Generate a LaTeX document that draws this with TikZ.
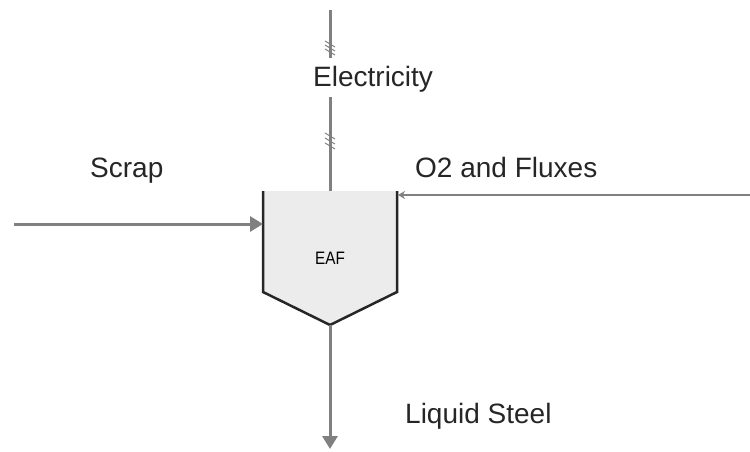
\documentclass[tikz,border=0pt]{standalone}
\usepackage{fontspec}
\setmainfont{Liberation Sans}
\usetikzlibrary{arrows.meta}
\definecolor{linegray}{HTML}{808080}
\definecolor{vesselfill}{HTML}{ECECEC}
\begin{document}
\begin{tikzpicture}[x=1pt,y=-1pt,
  flow/.style={draw=linegray,line width=3pt},
  flowarrow/.style={flow,-{Triangle[length=13pt,width=15pt]}},
  thinarrow/.style={draw=linegray,line width=2pt,-{Stealth[length=7pt,width=8pt]}},
  hatch/.style={draw=linegray,line width=1pt},
  label/.style={font=\fontsize{28}{32}\selectfont,text=black!85,inner sep=0pt},
  vessel/.style={draw=black!85,line width=2.5pt,fill=vesselfill,line join=miter}]
\useasboundingbox (0,0) rectangle (750,452);
% vessel
\coordinate (tl) at (263,191);
\coordinate (tr) at (397,191);
\coordinate (bl) at (263,292);
\coordinate (br) at (397,292);
\coordinate (tip) at (330,325);
\fill[vesselfill] (tl) -- (bl) -- (tip) -- (br) -- (tr) -- cycle;
\draw[vessel,fill=none] (tl) -- (bl) -- (tip) -- (br) -- (tr);
\node[inner sep=0pt,font=\fontsize{18}{20}\selectfont,xscale=0.85] (eaf) at (330,258) {EAF};
% electricity
\coordinate (e1) at (330,10);
\coordinate (e2) at (330,58);
\coordinate (e3) at (330,97);
\coordinate (e4) at (330,191);
\draw[flow] (e1) -- (e2);
\draw[flow] (e3) -- (e4);
\foreach \yy in {44,48,52} \draw[hatch] (325,\yy-3) -- (335,\yy+3);
\foreach \yy in {136,141,146} \draw[hatch] (325,\yy-3) -- (335,\yy+3);
\node[label,anchor=base west] (elec) at (313,86) {Electricity};
% scrap
\coordinate (s0) at (14,224);
\coordinate (s1) at (263,224);
\draw[flowarrow] (s0) -- (s1);
\node[label,anchor=base west] (scrap) at (90,177) {Scrap};
% O2
\coordinate (o0) at (750,195);
\coordinate (o1) at (398,195);
\draw[thinarrow] (o0) -- (o1);
\node[label,anchor=base west] (o2) at (415,177) {O2 and Fluxes};
% liquid steel
\coordinate (l1) at (330,449);
\draw[flowarrow] (tip) -- (l1);
\node[label,anchor=base west] (steel) at (405,423) {Liquid Steel};
\end{tikzpicture}
\end{document}
